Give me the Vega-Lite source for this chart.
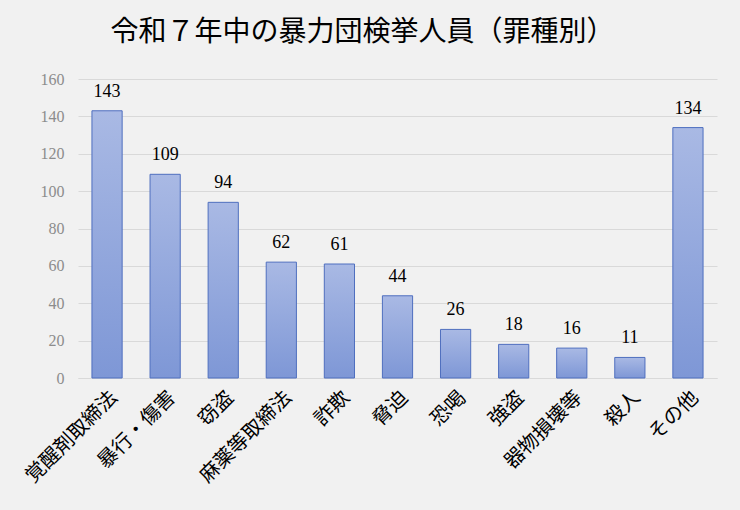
{
  "$schema": "https://vega.github.io/schema/vega-lite/v6.json",
  "autosize": {"type": "none"},
  "width": 639,
  "height": 299,
  "padding": {"left": 78, "top": 79, "right": 23, "bottom": 132},
  "background": "#f1f1f1",
  "title": {
    "text": "令和７年中の暴力団検挙人員（罪種別）",
    "font": "Noto Sans CJK JP",
    "fontSize": 28,
    "fontWeight": "normal",
    "color": "#000000",
    "anchor": "middle",
    "dx": -35,
    "offset": 24
  },
  "data": {
    "values": [
      {"crime": "覚醒剤取締法", "count": 143},
      {"crime": "暴行・傷害", "count": 109},
      {"crime": "窃盗", "count": 94},
      {"crime": "麻薬等取締法", "count": 62},
      {"crime": "詐欺", "count": 61},
      {"crime": "脅迫", "count": 44},
      {"crime": "恐喝", "count": 26},
      {"crime": "強盗", "count": 18},
      {"crime": "器物損壊等", "count": 16},
      {"crime": "殺人", "count": 11},
      {"crime": "その他", "count": 134}
    ]
  },
  "encoding": {
    "x": {
      "field": "crime",
      "type": "nominal",
      "sort": null,
      "scale": {"paddingInner": 0.48, "paddingOuter": 0.24},
      "axis": {
        "title": null,
        "labelAngle": -45,
        "labelFont": "Noto Sans CJK JP",
        "labelFontSize": 20,
        "labelColor": "#000000",
        "labelPadding": 9,
        "ticks": false,
        "domain": true,
        "domainColor": "#d9d9d9",
        "grid": false
      }
    },
    "y": {
      "field": "count",
      "type": "quantitative",
      "scale": {"domain": [0, 160], "nice": false},
      "axis": {
        "title": null,
        "values": [0, 20, 40, 60, 80, 100, 120, 140, 160],
        "labelFont": "Liberation Serif",
        "labelFontSize": 16,
        "labelColor": "#8c8c8c",
        "labelPadding": 14,
        "ticks": false,
        "domain": false,
        "grid": true,
        "gridColor": "#d9d9d9",
        "gridWidth": 1
      }
    }
  },
  "layer": [
    {
      "mark": {
        "type": "bar",
        "stroke": "#4f6fbf",
        "strokeWidth": 1,
        "color": {
          "gradient": "linear",
          "x1": 0, "y1": 0, "x2": 0, "y2": 1,
          "stops": [
            {"offset": 0, "color": "#a9b9e4"},
            {"offset": 1, "color": "#7e97d6"}
          ]
        }
      }
    },
    {
      "mark": {
        "type": "text",
        "baseline": "bottom",
        "dy": -10,
        "font": "Liberation Serif",
        "fontSize": 18,
        "color": "#000000"
      },
      "encoding": {"text": {"field": "count", "type": "quantitative"}}
    }
  ],
  "config": {"view": {"stroke": null}}
}
